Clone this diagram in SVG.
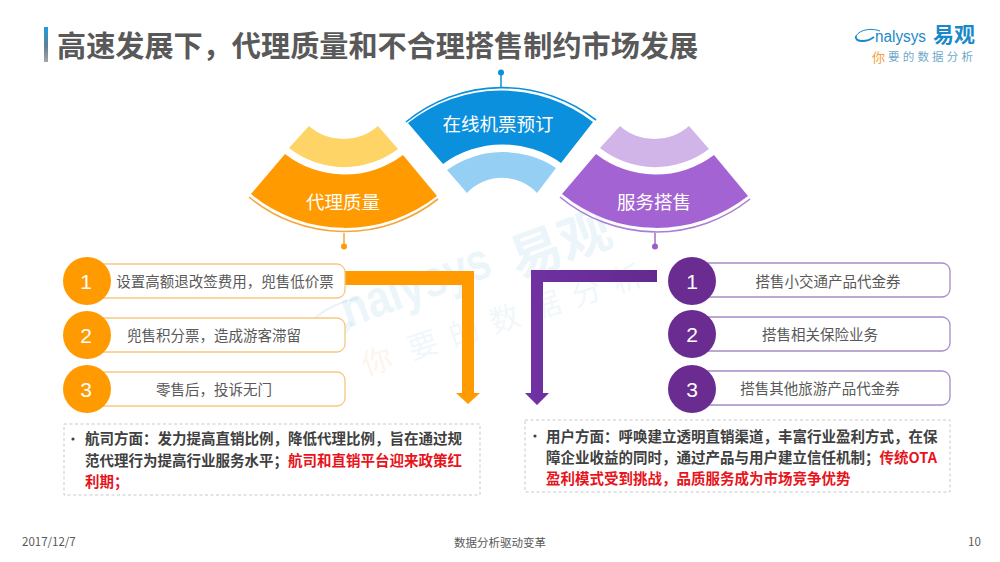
<svg xmlns="http://www.w3.org/2000/svg" width="1000" height="562" viewBox="0 0 1000 562">
<style>
text{font-family:"Noto Sans CJK SC","Liberation Sans",sans-serif}
.title{font-size:29.15px;font-weight:700;fill:#595959}
.fan{font-size:18.5px;fill:#fff;text-anchor:middle}
.row{font-size:14.5px;fill:#595959;text-anchor:middle;dominant-baseline:auto}
.num{font-family:"Liberation Sans",sans-serif;font-size:21px;fill:#fff;text-anchor:middle}
.note{font-size:14.5px;font-weight:700;fill:#404040}
.red{fill:#e8141c}
.box{fill:#fff;fill-opacity:.9;stroke:#c9c9c9;stroke-width:1;stroke-dasharray:3 2.5}
.ro{fill:#fff;stroke:#f6c782;stroke-width:1.3}
.rp{fill:#fff;stroke:#a88cc6;stroke-width:1.3}
.co{fill:#ff9a00}
.cp{fill:#6b2c91}
.foot{font-size:11.5px;fill:#595959}
.wm{font-family:"Liberation Sans",sans-serif;font-weight:700;fill:#1a88c9;opacity:.08}
.wmc{font-weight:700;fill:#1a88c9;opacity:.08}
.wms{fill:#1a88c9;opacity:.06}
</style>
<defs>
<linearGradient id="bar" x1="0" y1="0" x2="0" y2="1"><stop offset="0" stop-color="#1b9de2"/><stop offset=".55" stop-color="#5f7f95"/><stop offset="1" stop-color="#a6a6a6"/></linearGradient>
<linearGradient id="pa" x1="0" y1="0" x2="1" y2="0"><stop offset="0" stop-color="#7131a3"/><stop offset="1" stop-color="#632a8e"/></linearGradient>
</defs>
<rect width="1000" height="562" fill="#fff"/>

<g id="watermark">
<path d="M303 345C299 325 325 305 358 298" fill="none" stroke="#1a88c9" stroke-width="2" opacity=".1"/>
<path d="M309 338C322 350 342 338 351 322" fill="none" stroke="#1a88c9" stroke-width="6" opacity=".08"/>
<text class="wm" font-size="52" transform="translate(348 328) rotate(-20)" textLength="156" lengthAdjust="spacingAndGlyphs">nalysys</text>
<text class="wmc" font-size="52" transform="translate(518 279) rotate(-20)">易观</text>
<text class="wms" font-size="30" letter-spacing="13" transform="translate(412 360) rotate(-18)">要的数据分析</text>
<text font-size="30" fill="#f5a04a" opacity=".1" transform="translate(366 376) rotate(-18)">你</text>
</g>

<g id="header">
<rect x="44" y="27" width="4" height="35" fill="url(#bar)"/>
<text class="title" x="57" y="57">高速发展下，代理质量和不合理搭售制约市场发展</text>
</g>

<g id="logo">
<path d="M856 36C860 29 872 28 880 31" fill="none" stroke="#1a88c9" stroke-width="1"/>
<path d="M856 36C854 42 866 43 874 37" fill="none" stroke="#1a88c9" stroke-width="2"/>
<text x="875" y="42" font-size="16" fill="#1a88c9" style="font-family:'Liberation Sans',sans-serif" textLength="51" lengthAdjust="spacingAndGlyphs">nalysys</text>
<text x="933" y="42" font-size="21" font-weight="700" fill="#1a88c9">易观</text>
<text x="872" y="62" font-size="13" fill="#f2a03d">你</text>
<text x="888" y="61" font-size="11.5" letter-spacing="3.2" fill="#6fa9c9">要的数据分析</text>
</g>

<g id="connectors">
<line x1="501" y1="73" x2="501" y2="87" stroke="#0a8fd9" stroke-width="1.5"/>
<circle cx="501" cy="72.5" r="3" fill="#0a8fd9"/>
<line x1="344" y1="233" x2="344" y2="246" stroke="#f5a63b" stroke-width="1.5"/>
<circle cx="344" cy="246.500" r="3" fill="#ff9a00"/>
<line x1="655" y1="233" x2="655" y2="246" stroke="#a06cc9" stroke-width="1.5"/>
<circle cx="655" cy="246.500" r="3" fill="#9a5fc6"/>
<path id="arrow-orange" d="M345 271H474V393H480L468 404L456 393H462V285H345Z" fill="#ff9a00"/>
<path id="arrow-purple" d="M657 270V282H543V393H549L537 405L525 393H531V270Z" fill="url(#pa)"/>
</g>

<g id="fan-blue">
<path d="M408 123A150 150 0 0 1 593 122L561 163A101 101 0 0 0 443 164Z" fill="#0a90dc"/>
<path d="M406 122A152 152 0 0 1 596 120" fill="none" stroke="#0a90dc" stroke-width="1.6"/>
<path d="M447 170A96 96 0 0 1 556 168L537 193A48 48 0 0 0 467 193Z" fill="#95d0f4"/>
<text class="fan" x="498" y="131">在线机票预订</text>
</g>

<g id="fan-orange">
<path d="M251 194L285 154A97 97 0 0 0 403 155L437 196A148 148 0 0 1 251 194Z" fill="#ff9a00"/>
<path d="M249 197A150 150 0 0 0 438 199" fill="none" stroke="#f5a63b" stroke-width="1.6"/>
<path d="M289 148L309 126A52 52 0 0 0 378 126L398 149A89 89 0 0 1 289 148Z" fill="#ffd466"/>
<text class="fan" x="343" y="209">代理质量</text>
</g>

<g id="fan-purple">
<path d="M562 194L596 154A97 97 0 0 0 714 155L748 196A148 148 0 0 1 562 194Z" fill="#a463d2"/>
<path d="M560 197A150 150 0 0 0 750 199" fill="none" stroke="#a97fd0" stroke-width="1.6"/>
<path d="M600 148L620 126A52 52 0 0 0 689 126L709 149A89 89 0 0 1 600 148Z" fill="#d1b5e8"/>
<text class="fan" x="654" y="209">服务搭售</text>
</g>

<g id="left-1"><rect class="ro" x="85" y="264" width="260" height="34" rx="8"/><circle class="co" cx="87" cy="281" r="24"/><text class="num" x="86" y="289">1</text><text class="row" x="225" y="287">设置高额退改签费用，兜售低价票</text></g>
<g id="left-2"><rect class="ro" x="85" y="318" width="260" height="34" rx="8"/><circle class="co" cx="87" cy="335" r="24"/><text class="num" x="86" y="343">2</text><text class="row" x="214" y="341">兜售积分票，造成游客滞留</text></g>
<g id="left-3"><rect class="ro" x="85" y="372" width="260" height="34" rx="8"/><circle class="co" cx="87" cy="389" r="24"/><text class="num" x="86" y="397">3</text><text class="row" x="214" y="395">零售后，投诉无门</text></g>

<g id="right-1"><rect class="rp" x="690" y="263" width="260" height="34" rx="8"/><circle class="cp" cx="692" cy="281" r="24"/><text class="num" x="692" y="289">1</text><text class="row" x="828" y="287">搭售小交通产品代金券</text></g>
<g id="right-2"><rect class="rp" x="690" y="317" width="260" height="34" rx="8"/><circle class="cp" cx="692" cy="334" r="24"/><text class="num" x="692" y="342">2</text><text class="row" x="820" y="340">搭售相关保险业务</text></g>
<g id="right-3"><rect class="rp" x="690" y="371" width="260" height="34" rx="8"/><circle class="cp" cx="692" cy="389" r="24"/><text class="num" x="692" y="397">3</text><text class="row" x="820" y="394">搭售其他旅游产品代金券</text></g>

<g id="note-left">
<rect class="box" x="64" y="424" width="416" height="71"/>
<circle cx="73" cy="439" r="1.600" fill="#404040"/>
<text class="note" x="85" y="444">航司方面：发力提高直销比例，降低代理比例，旨在通过规</text>
<text class="note" x="85" y="466">范代理行为提高行业服务水平；<tspan class="red">航司和直销平台迎来政策红</tspan></text>
<text class="note red" x="85" y="487">利期；</text>
</g>

<g id="note-right">
<rect class="box" x="525" y="420" width="425" height="72"/>
<circle cx="535" cy="436" r="1.600" fill="#404040"/>
<text class="note" x="546" y="442">用户方面：呼唤建立透明直销渠道，丰富行业盈利方式，在保</text>
<text class="note" x="546" y="463">障企业收益的同时，通过产品与用户建立信任机制；<tspan class="red">传统OTA</tspan></text>
<text class="note red" x="546" y="484">盈利模式受到挑战，品质服务成为市场竞争优势</text>
</g>

<g id="footer">
<text class="foot" x="22" y="546">2017/12/7</text>
<text class="foot" x="454" y="547">数据分析驱动变革</text>
<text class="foot" x="968" y="546">10</text>
</g>
</svg>
